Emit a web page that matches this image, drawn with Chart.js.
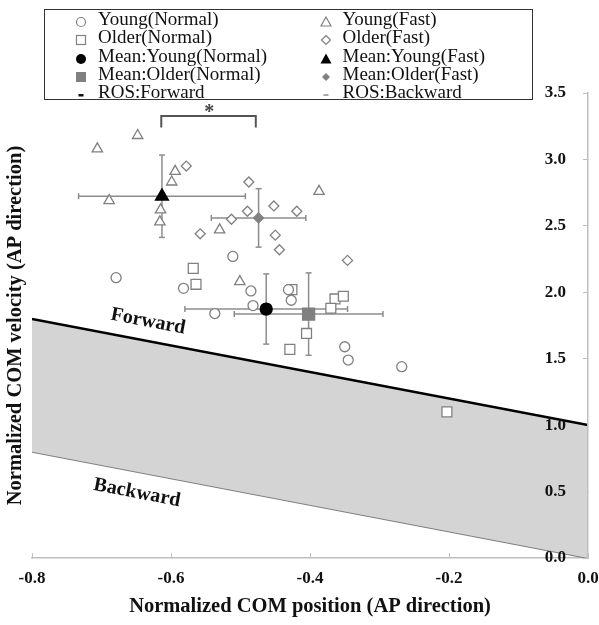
<!DOCTYPE html>
<html>
<head>
<meta charset="utf-8">
<script src="https://cdn.jsdelivr.net/npm/chart.js@4.4.0/dist/chart.umd.min.js"></script>
<style>
html, body { margin: 0; padding: 0; background: #fff; }
#wrap { position: relative; width: 599px; height: 625px; }
#legend {
  position: absolute; left: 44px; top: 9px; width: 489px; height: 91px;
  border: 1.5px solid #333; box-sizing: border-box; background: #fff;
  font-family: "Liberation Serif", "Times New Roman", serif; font-size: 19px; color: #111;
}
.item { position: absolute; white-space: nowrap; line-height: 18px; height: 18px; }
.mark { position: absolute; }
</style>
</head>
<body>
<div id="wrap">
  <canvas id="grafico" width="599" height="625"></canvas>
  <div id="legend"></div>
</div>
<script>
// datos
var youngNormalX = [-0.679, -0.511, -0.582, -0.485, -0.431, -0.427, -0.482, -0.537, -0.350, -0.345, -0.268];
var youngNormalY = [2.11, 2.27, 2.03, 2.01, 2.02, 1.94, 1.90, 1.84, 1.59, 1.49, 1.44];

var youngFastX = [-0.706, -0.648, -0.689, -0.594, -0.599, -0.616, -0.615, -0.387, -0.530, -0.501];
var youngFastY = [3.08, 3.18, 2.69, 2.91, 2.83, 2.53, 2.62, 2.76, 2.47, 2.08];

var olderNormalX = [-0.568, -0.564, -0.426, -0.364, -0.352, -0.370, -0.405, -0.429, -0.203];
var olderNormalY = [2.18, 2.06, 2.02, 1.95, 1.97, 1.88, 1.69, 1.57, 1.10];

var olderFastX = [-0.578, -0.488, -0.452, -0.419, -0.490, -0.513, -0.558, -0.450, -0.444, -0.346];
var olderFastY = [2.95, 2.83, 2.65, 2.61, 2.61, 2.55, 2.44, 2.43, 2.32, 2.24];

// medias y desviaciones: YN, ON, YF, OF
var meanX = [-0.463, -0.402, -0.613, -0.474];
var meanY = [1.874, 1.836, 2.723, 2.560];
var sdX = [0.117, 0.107, 0.120, 0.068];
var sdY = [0.264, 0.310, 0.310, 0.220];

// lineas ROS
var rosX = [-0.8, 0.0];
var rosForward = [1.8, 1.0];
var rosBackward = [0.8, 0.0];

// corchete de significancia
var bracketX = [-0.614, -0.614, -0.478, -0.478];
var bracketY = [3.24, 3.326, 3.326, 3.24];

// textos sobre el grafico
var noteText = ['Forward', 'Backward', '*'];
var noteX = [-0.633, -0.649, -0.545];
var noteY = [1.78, 0.49, 3.35];

var xTicks = { min: -0.8, max: 0.0, step: 0.2 };
var yTicks = { min: 0.0, max: 3.5, step: 0.5 };

var legendLabels = ['Young(Normal)', 'Young(Fast)', 'Older(Normal)', 'Older(Fast)',
  'Mean:Young(Normal)', 'Mean:Young(Fast)', 'Mean:Older(Normal)', 'Mean:Older(Fast)',
  'ROS:Forward', 'ROS:Backward'];

function puntos(xs, ys) {
  return xs.map(function (x, i) { return { x: x, y: ys[i] }; });
}

var gris = '#808080';
var serif = '"Liberation Serif", "Times New Roman", serif';

var datasets = [];

function marcas(xs, ys, estilo, radio, fondo, borde) {
  datasets.push({
    data: puntos(xs, ys),
    pointStyle: estilo,
    pointRadius: radio,
    pointBackgroundColor: fondo,
    pointBorderColor: borde,
    pointBorderWidth: 1.3,
    showLine: false,
    order: 1
  });
}

// medias arriba de todo
marcas([meanX[0]], [meanY[0]], 'circle', 6, '#000', '#000');
marcas([meanX[1]], [meanY[1]], 'rect', 8.5, gris, gris);
marcas([meanX[2]], [meanY[2]], 'triangle', 7.5, '#000', '#000');
marcas([meanX[3]], [meanY[3]], 'rectRot', 5, gris, gris);

marcas(youngNormalX, youngNormalY, 'circle', 5, '#fff', gris);
marcas(olderNormalX, olderNormalY, 'rect', 7, '#fff', gris);
marcas(youngFastX, youngFastY, 'triangle', 6, '#fff', gris);
marcas(olderFastX, olderFastY, 'rectRot', 5, '#fff', gris);

// barras de error
for (var i = 0; i < meanX.length; i += 1) {
  datasets.push({
    data: [{ x: meanX[i] - sdX[i], y: meanY[i] }, { x: meanX[i] + sdX[i], y: meanY[i] }],
    type: 'line', showLine: true, borderColor: '#8c8c8c', borderWidth: 1.5,
    pointStyle: 'line', rotation: 90, pointRadius: 3, pointBorderColor: '#8c8c8c',
    pointBorderWidth: 1.5, fill: false, order: 2
  });
  datasets.push({
    data: [{ x: meanX[i], y: meanY[i] - sdY[i] }, { x: meanX[i], y: meanY[i] + sdY[i] }],
    type: 'line', showLine: true, borderColor: '#8c8c8c', borderWidth: 1.5,
    pointStyle: 'line', rotation: 0, pointRadius: 3, pointBorderColor: '#8c8c8c',
    pointBorderWidth: 1.5, fill: false, order: 2
  });
}

datasets.push({
  data: puntos(bracketX, bracketY),
  type: 'line', showLine: true, borderColor: '#555', borderWidth: 2,
  pointRadius: 0, fill: false, order: 2
});

var idxForward = datasets.length;
datasets.push({
  data: puntos(rosX, rosForward),
  type: 'line', showLine: true, borderColor: '#000', borderWidth: 2.5,
  pointRadius: 0, fill: { target: idxForward + 1 }, backgroundColor: '#d4d4d4', order: 3
});
datasets.push({
  data: puntos(rosX, rosBackward),
  type: 'line', showLine: true, borderColor: '#7f7f7f', borderWidth: 2,
  pointRadius: 0, fill: false, order: 3
});

// textos en coordenadas de datos
var notas = {
  id: 'notas',
  afterDatasetsDraw: function (chart) {
    var c = chart.ctx, sx = chart.scales.x, sy = chart.scales.y;
    var dx = sx.getPixelForValue(rosX[1]) - sx.getPixelForValue(rosX[0]);
    var dy = sy.getPixelForValue(rosForward[1]) - sy.getPixelForValue(rosForward[0]);
    var ang = Math.atan2(dy, dx);
    c.save();
    c.textAlign = 'center';
    c.textBaseline = 'middle';
    for (var k = 0; k < noteText.length; k += 1) {
      c.save();
      c.translate(sx.getPixelForValue(noteX[k]), sy.getPixelForValue(noteY[k]));
      c.font = 'bold 20px ' + serif;
      if (noteText[k] !== '*') {
        c.rotate(ang);
        c.fillStyle = '#111';
      } else {
        c.fillStyle = '#444';
      }
      c.fillText(noteText[k], 0, 0);
      c.restore();
    }
    c.restore();
  }
};

var fmt = function (v) { return Number(v).toFixed(1); };
var sinRelleno = function (s) { s.paddingLeft = 0; s.paddingRight = 0; s.paddingTop = 0; s.paddingBottom = 0; };

var ctx = document.getElementById('grafico').getContext('2d');
var myChart = new Chart(ctx, {
  type: 'scatter',
  data: { datasets: datasets },
  options: {
    responsive: false,
    animation: false,
    layout: { padding: { top: 93, left: 0, right: 0, bottom: 0 } },
    plugins: { legend: { display: false }, tooltip: { enabled: false } },
    scales: {
      x: {
        type: 'linear', position: 'bottom',
        min: xTicks.min, max: xTicks.max,
        ticks: { stepSize: xTicks.step, callback: fmt, color: '#111', padding: 15,
          font: { family: serif, size: 17, weight: 'bold' } },
        grid: { drawOnChartArea: false, tickLength: -5, color: '#bfbfbf' },
        border: { color: '#bfbfbf', width: 1.5 },
        title: { display: true, text: 'Normalized COM position (AP direction)', color: '#111',
          padding: { top: 0, bottom: 6 }, font: { family: serif, size: 20.5, weight: 'bold' } },
        afterFit: function (s) { s.height = 67; sinRelleno(s); }
      },
      y: {
        type: 'linear', position: 'right',
        min: yTicks.min, max: yTicks.max,
        ticks: { stepSize: yTicks.step, callback: fmt, mirror: true, padding: -22, color: '#111', z: 1,
          font: { family: serif, size: 17, weight: 'bold' } },
        grid: { drawOnChartArea: false, tickLength: -5, color: '#bfbfbf' },
        border: { color: '#bfbfbf', width: 1.5, z: 1 },
        afterFit: function (s) { s.width = 11; sinRelleno(s); }
      },
      yTitle: {
        type: 'linear', position: 'left',
        ticks: { display: false },
        grid: { display: false },
        border: { display: false },
        title: { display: true, text: 'Normalized COM velocity (AP direction)', color: '#111',
          padding: { top: 3, bottom: 0 }, font: { family: serif, size: 20.5, weight: 'bold' } },
        afterFit: function (s) { s.width = 32; sinRelleno(s); }
      }
    }
  },
  plugins: [notas]
});

// leyenda en dos columnas
var simbolos = [
  '<circle cx="7" cy="7" r="4.5" fill="#fff" stroke="#808080" stroke-width="1.2"/>',
  '<polygon points="7,2 12,11 2,11" fill="#fff" stroke="#808080" stroke-width="1.2"/>',
  '<rect x="2.5" y="2.5" width="9" height="9" fill="#fff" stroke="#808080" stroke-width="1.2"/>',
  '<polygon points="7,2.5 11.5,7 7,11.5 2.5,7" fill="#fff" stroke="#808080" stroke-width="1.2"/>',
  '<circle cx="7" cy="7" r="5" fill="#000"/>',
  '<polygon points="7,1.5 12.5,11.5 1.5,11.5" fill="#000"/>',
  '<rect x="2" y="2" width="10" height="10" fill="#808080"/>',
  '<polygon points="7,3 11,7 7,11 3,7" fill="#808080"/>',
  '<rect x="4.5" y="6" width="5" height="2.5" fill="#111"/>',
  '<rect x="4.5" y="6" width="5" height="2" fill="#aaa"/>'
];
var leyenda = document.getElementById('legend');
var colMarca = [36, 281];
var colTexto = [53, 297.5];
legendLabels.forEach(function (txt, i) {
  var col = i % 2, fila = Math.floor(i / 2);
  var cy = 9 + fila * 18.3;
  var m = document.createElement('div');
  m.className = 'mark';
  m.style.left = (colMarca[col] - 7) + 'px';
  m.style.top = (cy - 7) + 'px';
  m.innerHTML = '<svg width="14" height="14">' + simbolos[i] + '</svg>';
  leyenda.appendChild(m);
  var t = document.createElement('div');
  t.className = 'item';
  t.style.left = colTexto[col] + 'px';
  t.style.top = (cy - 9) + 'px';
  t.textContent = txt;
  leyenda.appendChild(t);
});
</script>
</body>
</html>
